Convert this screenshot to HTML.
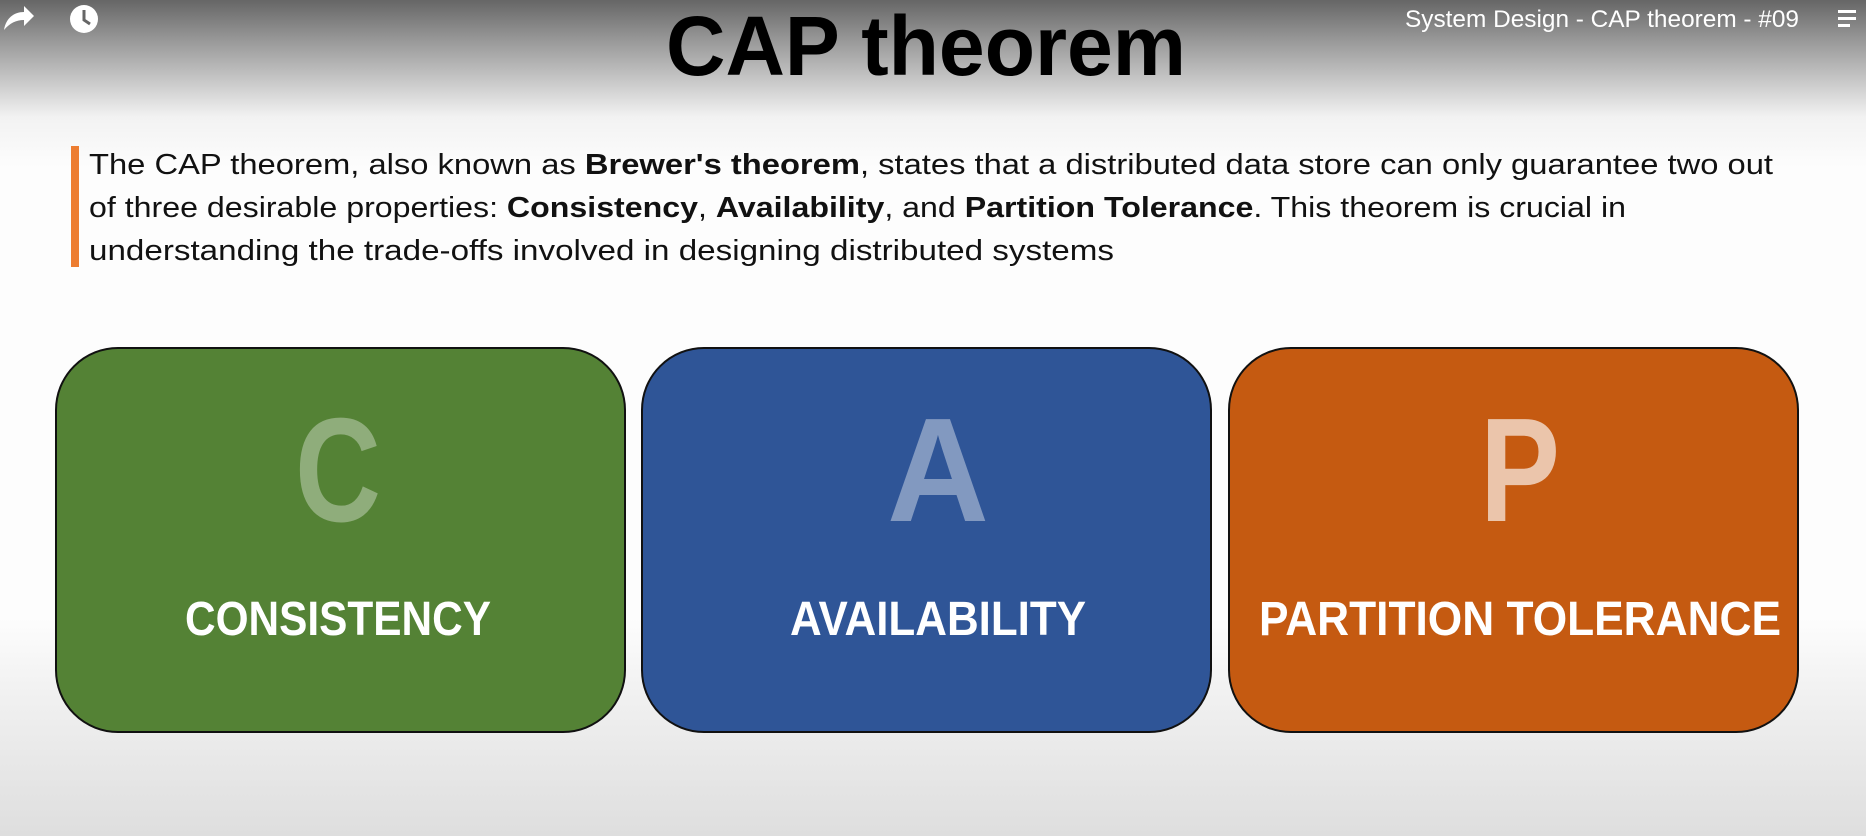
<!DOCTYPE html>
<html><head><meta charset="utf-8"><style>
html,body{margin:0;padding:0;width:1866px;height:836px;overflow:hidden;}
svg{display:block}
</style></head><body>
<svg width="1866" height="836" viewBox="0 0 1866 836" xmlns="http://www.w3.org/2000/svg">
<defs>
<linearGradient id="bg" x1="0" y1="0" x2="0" y2="1">
<stop offset="0" stop-color="#666"/>
<stop offset="0.05" stop-color="#9a9a9a"/>
<stop offset="0.14" stop-color="#f2f2f2"/>
<stop offset="0.2" stop-color="#fdfdfd"/>
<stop offset="0.74" stop-color="#fdfdfd"/>
<stop offset="0.82" stop-color="#f2f2f2"/>
<stop offset="1" stop-color="#dedede"/>
</linearGradient>
</defs>
<rect width="1866" height="836" fill="url(#bg)"/>
<path d="M4 30 C6 18 14 12 24 12 L24 6 L34 16 L24 26 L24 20 C16 20 10 23 4 30Z" fill="#fff"/>
<circle cx="84" cy="19" r="14" fill="#fff"/>
<path d="M84 10 L84 20 L90 24" stroke="#666" stroke-width="3" fill="none"/>
<text x="1799" y="27" text-anchor="end" font-family="Liberation Sans, sans-serif" font-size="24" fill="#fff" textLength="394" lengthAdjust="spacingAndGlyphs">System Design - CAP theorem - #09</text>
<rect x="1838" y="10" width="18" height="3" fill="#fff"/><rect x="1838" y="17" width="18" height="3" fill="#fff"/><rect x="1838" y="24" width="12" height="3" fill="#fff"/>
<text x="926" y="75" text-anchor="middle" font-family="Liberation Sans, sans-serif" font-weight="bold" font-size="84" fill="#000" textLength="520" lengthAdjust="spacingAndGlyphs">CAP theorem</text>
<rect x="71" y="146" width="8" height="121" fill="#ed7d31"/>
<g font-family="Liberation Sans, sans-serif" font-size="29" fill="#111">
<text x="89" y="174" textLength="1684" lengthAdjust="spacingAndGlyphs">The CAP theorem, also known as <tspan font-weight="bold">Brewer's theorem</tspan>, states that a distributed data store can only guarantee two out</text>
<text x="89" y="217" textLength="1537" lengthAdjust="spacingAndGlyphs">of three desirable properties: <tspan font-weight="bold">Consistency</tspan>, <tspan font-weight="bold">Availability</tspan>, and <tspan font-weight="bold">Partition Tolerance</tspan>. This theorem is crucial in</text>
<text x="89" y="260" textLength="1025" lengthAdjust="spacingAndGlyphs">understanding the trade-offs involved in designing distributed systems</text>
</g>
<rect x="56" y="348" width="569" height="384" rx="62" fill="#548235" stroke="#111" stroke-width="2"/>
<rect x="642" y="348" width="569" height="384" rx="62" fill="#2f5597" stroke="#111" stroke-width="2"/>
<rect x="1229" y="348" width="569" height="384" rx="62" fill="#c55a11" stroke="#111" stroke-width="2"/>
<g font-family="Liberation Sans, sans-serif" font-weight="bold" text-anchor="middle">
<text x="338" y="521" font-size="148" fill="#fff" fill-opacity="0.35" textLength="86" lengthAdjust="spacingAndGlyphs">C</text>
<text x="938" y="521" font-size="148" fill="#fff" fill-opacity="0.4" textLength="102" lengthAdjust="spacingAndGlyphs">A</text>
<text x="1520" y="521" font-size="148" fill="#fff" fill-opacity="0.65" textLength="80" lengthAdjust="spacingAndGlyphs">P</text>
<text x="338" y="635" font-size="48" fill="#fff" textLength="306" lengthAdjust="spacingAndGlyphs">CONSISTENCY</text>
<text x="938" y="635" font-size="48" fill="#fff" textLength="296" lengthAdjust="spacingAndGlyphs">AVAILABILITY</text>
<text x="1520" y="635" font-size="48" fill="#fff" textLength="522" lengthAdjust="spacingAndGlyphs">PARTITION TOLERANCE</text>
</g>
</svg>
</body></html>
